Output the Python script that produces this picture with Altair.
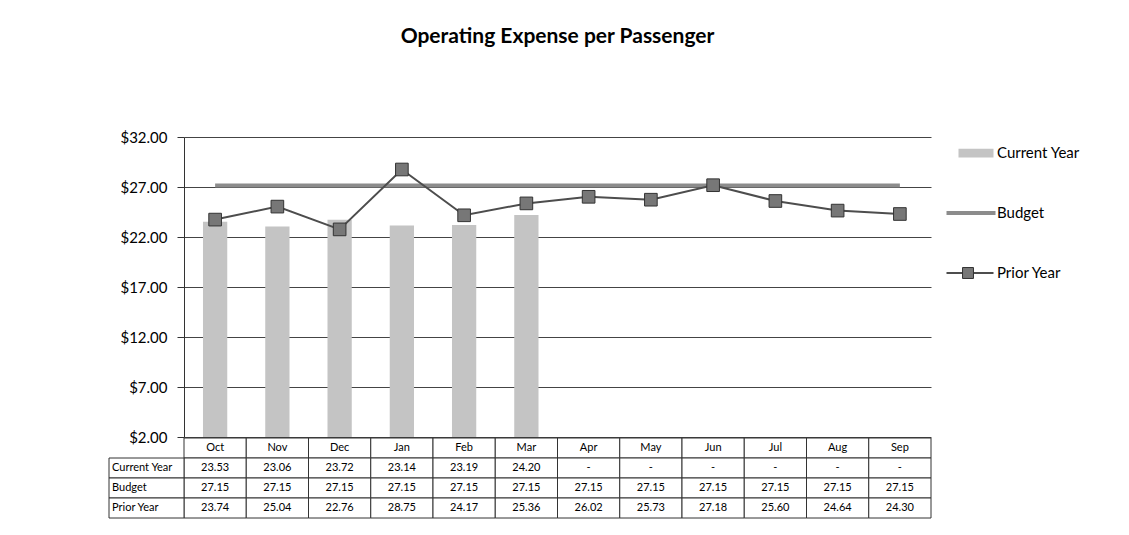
import altair as alt
import pandas as pd

# ---------------- data ----------------
title_text = "Operating Expense per Passenger"
months = ["Oct", "Nov", "Dec", "Jan", "Feb", "Mar", "Apr", "May", "Jun", "Jul", "Aug", "Sep"]
current_year = [23.53, 23.06, 23.72, 23.14, 23.19, 24.20, None, None, None, None, None, None]
budget = [27.15, 27.15, 27.15, 27.15, 27.15, 27.15, 27.15, 27.15, 27.15, 27.15, 27.15, 27.15]
prior_year = [23.74, 25.04, 22.76, 28.75, 24.17, 25.36, 26.02, 25.73, 27.18, 25.60, 24.64, 24.30]
series = ["Current Year", "Budget", "Prior Year"]
y_ticks = [2, 7, 12, 17, 22, 27, 32]
header_key = "Month"

FONT = "Lato"
BAR_COLOR = "#c4c4c4"
BUDGET_COLOR = "#8c8c8c"
PRIOR_COLOR = "#4d4d4d"
MARKER_FILL = "#777777"
LINE_DARK = "#333333"

main_df = pd.DataFrame({"month": months, "current": current_year,
                        "budget": budget, "prior": prior_year})

tbl_rows = []
for i, m in enumerate(months):
    tbl_rows.append({"month": m, "row": header_key, "label": m})
    cy = current_year[i]
    tbl_rows.append({"month": m, "row": "Current Year", "label": "-" if cy is None else f"{cy:.2f}"})
    tbl_rows.append({"month": m, "row": "Budget", "label": f"{budget[i]:.2f}"})
    tbl_rows.append({"month": m, "row": "Prior Year", "label": f"{prior_year[i]:.2f}"})
tbl_df = pd.DataFrame(tbl_rows)
lab_df = pd.DataFrame({"row": series})
leg_df = pd.DataFrame({"series": series})

# ---------------- encodings ----------------
x_enc = alt.X("month:N", sort=months,
              scale=alt.Scale(domain=months, paddingInner=0, paddingOuter=0),
              axis=None)

y_scale = alt.Scale(domain=[2, 32], zero=False, nice=False)
y_axis = alt.Axis(values=y_ticks, format="$.2f", title=None,
                  labelFont=FONT, labelFontSize=15, labelColor="black",
                  labelPadding=10, tickSize=7, tickColor=LINE_DARK,
                  domainColor=LINE_DARK, gridColor="#444444", gridWidth=1)


def yq(field):
    return alt.Y(f"{field}:Q", scale=y_scale, axis=y_axis)


base = alt.Chart(main_df)
bars = base.mark_bar(color=BAR_COLOR, width=alt.RelativeBandSize(0.39)).encode(
    x=x_enc, y=yq("current"), y2=alt.datum(2))
budget_line = base.mark_line(color=BUDGET_COLOR, strokeWidth=4).encode(
    x=x_enc, y=yq("budget"))
prior_line = base.mark_line(color=PRIOR_COLOR, strokeWidth=2).encode(
    x=x_enc, y=yq("prior"))
prior_pts = base.mark_square(size=160, color=MARKER_FILL, stroke=LINE_DARK,
                             strokeWidth=1, opacity=1).encode(
    x=x_enc, y=yq("prior"))
main = alt.layer(bars, budget_line, prior_line, prior_pts)

# ---------------- data table ----------------
tbl_y = alt.Y("row:N",
              scale=alt.Scale(domain=[header_key] + series, range=[301, 381],
                              paddingInner=0, paddingOuter=0),
              axis=None)
cells = alt.Chart(tbl_df).mark_rect(fill="white", stroke=LINE_DARK, strokeWidth=1).encode(
    x=x_enc, y=tbl_y)
cell_text = alt.Chart(tbl_df).mark_text(font=FONT, fontSize=11, color="black").encode(
    x=x_enc, y=tbl_y, text="label:N")
lab_cells = alt.Chart(lab_df).mark_rect(fill="white", stroke=LINE_DARK, strokeWidth=1).encode(
    x=alt.value(-75), x2=alt.value(0), y=tbl_y)
lab_text = alt.Chart(lab_df).mark_text(font=FONT, fontSize=11, color="black", align="left").encode(
    x=alt.value(-72), y=tbl_y, text="row:N")
table = alt.layer(cells, cell_text, lab_cells, lab_text)

# ---------------- legend (drawn) ----------------
leg_y = alt.Y("series:N", scale=alt.Scale(type="point", domain=series, range=[16, 136], padding=0),
              axis=None)
leg = alt.Chart(leg_df)
sym_cy = leg.transform_filter(alt.datum.series == "Current Year").mark_point(
    shape="M-1,-0.25H1V0.25H-1Z", size=1225, filled=True, color=BAR_COLOR,
    opacity=1, strokeWidth=0).encode(x=alt.value(792), y=leg_y)
sym_bu = leg.transform_filter(alt.datum.series == "Budget").mark_point(
    shape="M-1,-0.08H1V0.08H-1Z", size=2401, filled=True, color=BUDGET_COLOR,
    opacity=1, strokeWidth=0).encode(x=alt.value(787), y=leg_y)
sym_py = leg.transform_filter(alt.datum.series == "Prior Year").mark_point(
    shape="M-1,-0.045H1V0.045H-1Z", size=2209, filled=True, color=PRIOR_COLOR,
    opacity=1, strokeWidth=0).encode(x=alt.value(786), y=leg_y)
sym_py_sq = leg.transform_filter(alt.datum.series == "Prior Year").mark_square(
    size=120, color=MARKER_FILL, stroke=LINE_DARK, strokeWidth=1, opacity=1).encode(
    x=alt.value(784), y=leg_y)
leg_text = leg.mark_text(font=FONT, fontSize=15, color="black", align="left").encode(
    x=alt.value(813), y=leg_y, text="series:N")
legend = alt.layer(sym_cy, sym_bu, sym_py, sym_py_sq, leg_text)

chart = alt.layer(main, table, legend).resolve_scale(y="independent").properties(
    width=747, height=300,
    padding={"left": 100, "top": 18, "right": 5, "bottom": 5},
    title=alt.TitleParams(title_text, font=FONT, fontSize=21, fontWeight="bold",
                          color="black", anchor="middle", frame="group", offset=83),
).configure_view(stroke=None)

chart.save("out.html", embed_options={"renderer": "svg", "actions": False})
